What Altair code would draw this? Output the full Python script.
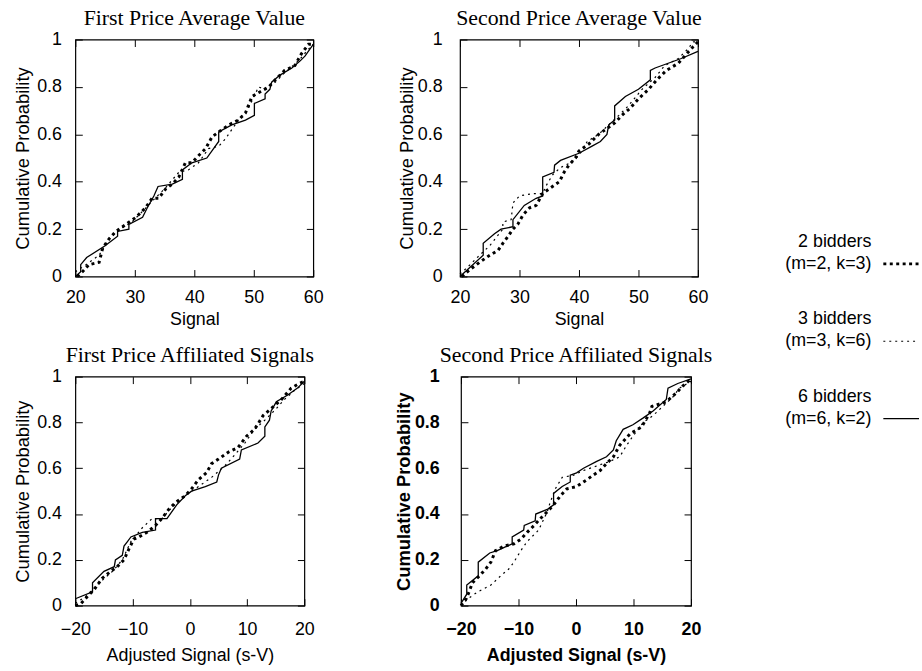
import altair as alt
import pandas as pd

SERIES = ["2 bidders", "3 bidders", "6 bidders"]
SERIES_SUB = ["(m=2, k=3)", "(m=3, k=6)", "(m=6, k=2)"]

# ---- Panel 1: First Price Average Value (x = Signal 20..60)
p1_s2_x = [20.3, 21.2, 22.3, 24.0, 24.6, 25.7, 26.8, 28.5, 30.2, 31.8, 32.9, 34.0, 35.2, 36.3, 37.4, 38.5, 39.6, 40.7, 41.9, 43.0, 44.1, 45.8, 47.4, 48.6, 49.7, 51.1, 52.5, 53.6, 55.2, 56.9, 58.0, 59.2, 60.0]
p1_s2_y = [0.00, 0.02, 0.05, 0.06, 0.12, 0.16, 0.19, 0.22, 0.25, 0.29, 0.33, 0.33, 0.37, 0.39, 0.42, 0.48, 0.48, 0.51, 0.54, 0.59, 0.61, 0.64, 0.66, 0.69, 0.76, 0.78, 0.80, 0.83, 0.87, 0.89, 0.94, 0.98, 0.98]
p1_s3_x = [20.0, 21.8, 24.0, 25.7, 27.5, 29.5, 31.5, 33.0, 35.0, 37.4, 39.0, 40.7, 42.4, 44.1, 45.2, 47.4, 49.1, 50.8, 51.9, 53.6, 55.2, 57.5, 59.2, 60.0]
p1_s3_y = [0.02, 0.05, 0.09, 0.16, 0.20, 0.23, 0.28, 0.32, 0.37, 0.44, 0.45, 0.48, 0.54, 0.55, 0.58, 0.66, 0.71, 0.80, 0.79, 0.82, 0.86, 0.91, 0.96, 0.98]
p1_s6_x = [20.0, 20.9, 20.9, 21.9, 25.0, 27.1, 27.1, 29.0, 29.0, 31.3, 32.1, 33.2, 33.9, 36.3, 38.0, 38.0, 39.6, 42.1, 44.1, 44.1, 46.3, 48.6, 50.1, 50.1, 51.9, 51.9, 52.7, 53.0, 54.4, 56.4, 57.8, 58.6, 60.0]
p1_s6_y = [0.00, 0.02, 0.05, 0.08, 0.13, 0.17, 0.19, 0.20, 0.22, 0.25, 0.29, 0.34, 0.38, 0.39, 0.41, 0.45, 0.48, 0.50, 0.57, 0.61, 0.64, 0.66, 0.68, 0.73, 0.75, 0.77, 0.79, 0.82, 0.85, 0.88, 0.91, 0.93, 0.98]

# ---- Panel 2: Second Price Average Value
p2_s2_x = [20.3, 21.7, 23.3, 25.0, 26.4, 27.2, 28.1, 28.9, 29.7, 30.6, 31.7, 32.8, 33.9, 35.0, 36.7, 37.5, 38.3, 39.4, 40.0, 41.7, 43.3, 45.0, 46.1, 47.2, 48.6, 50.0, 51.7, 53.1, 54.7, 56.7, 58.1, 59.2, 60.0]
p2_s2_y = [0.00, 0.03, 0.06, 0.09, 0.11, 0.14, 0.17, 0.20, 0.22, 0.26, 0.29, 0.30, 0.35, 0.37, 0.40, 0.44, 0.47, 0.50, 0.53, 0.56, 0.60, 0.63, 0.65, 0.68, 0.71, 0.75, 0.79, 0.83, 0.87, 0.90, 0.94, 0.97, 0.99]
p2_s3_x = [20.0, 21.7, 23.3, 25.0, 27.2, 27.2, 28.6, 28.9, 30.0, 32.2, 33.9, 34.4, 35.6, 36.9, 38.6, 40.0, 41.4, 43.3, 45.0, 46.7, 48.3, 50.6, 52.8, 54.4, 56.7, 58.3, 59.2, 60.0]
p2_s3_y = [0.01, 0.05, 0.09, 0.13, 0.20, 0.23, 0.24, 0.31, 0.34, 0.35, 0.35, 0.38, 0.43, 0.46, 0.48, 0.51, 0.57, 0.60, 0.64, 0.68, 0.72, 0.79, 0.84, 0.89, 0.92, 0.96, 0.99, 0.99]
p2_s6_x = [20.0, 23.9, 23.9, 25.8, 26.9, 28.9, 28.9, 30.8, 32.8, 33.9, 33.9, 35.8, 35.9, 36.9, 40.0, 42.2, 43.6, 44.7, 45.0, 46.0, 46.0, 47.8, 50.0, 52.0, 52.0, 52.8, 55.0, 57.2, 60.0]
p2_s6_y = [0.00, 0.09, 0.14, 0.18, 0.20, 0.21, 0.24, 0.30, 0.33, 0.34, 0.42, 0.44, 0.47, 0.49, 0.52, 0.55, 0.57, 0.60, 0.64, 0.66, 0.72, 0.76, 0.79, 0.83, 0.87, 0.88, 0.90, 0.92, 0.95]

# ---- Panel 3: First Price Affiliated Signals (x = Adjusted Signal -20..20)
p3_s2_x = [-20.0, -19.0, -17.9, -16.7, -15.3, -13.8, -12.7, -11.5, -10.6, -9.8, -8.9, -7.5, -6.0, -4.9, -3.7, -2.5, -0.8, 0.3, 1.5, 2.9, 3.8, 5.0, 6.7, 8.4, 9.9, 11.3, 12.8, 14.2, 16.0, 17.7, 19.1, 20.0]
p3_s2_y = [0.00, 0.01, 0.04, 0.07, 0.12, 0.15, 0.17, 0.20, 0.25, 0.29, 0.30, 0.32, 0.35, 0.38, 0.42, 0.45, 0.48, 0.51, 0.55, 0.58, 0.62, 0.64, 0.67, 0.69, 0.74, 0.77, 0.83, 0.86, 0.90, 0.95, 0.97, 0.98]
p3_s3_x = [-20.0, -18.2, -15.8, -13.5, -11.8, -10.3, -8.3, -6.6, -4.9, -3.1, -0.8, 1.5, 3.8, 6.1, 7.9, 9.6, 11.3, 13.1, 15.1, 16.5, 18.3, 20.0]
p3_s3_y = [0.01, 0.04, 0.10, 0.15, 0.20, 0.28, 0.34, 0.38, 0.38, 0.43, 0.48, 0.52, 0.56, 0.61, 0.66, 0.71, 0.77, 0.81, 0.86, 0.90, 0.94, 0.97]
p3_s6_x = [-20.0, -17.0, -17.0, -15.0, -13.2, -13.0, -11.8, -11.5, -10.9, -10.3, -8.3, -6.0, -6.0, -4.0, -2.3, -0.8, 0.3, 2.7, 4.7, 5.0, 5.5, 8.7, 9.0, 11.9, 13.1, 13.1, 13.9, 14.2, 15.1, 17.1, 18.8, 20.0]
p3_s6_y = [0.03, 0.06, 0.10, 0.15, 0.17, 0.20, 0.22, 0.26, 0.28, 0.30, 0.32, 0.33, 0.38, 0.38, 0.44, 0.48, 0.50, 0.52, 0.54, 0.57, 0.60, 0.64, 0.68, 0.71, 0.74, 0.78, 0.81, 0.85, 0.89, 0.92, 0.95, 0.98]

# ---- Panel 4: Second Price Affiliated Signals
p4_s2_x = [-20.0, -19.1, -18.6, -18.0, -16.8, -15.7, -14.8, -14.0, -12.5, -10.8, -9.6, -8.5, -7.3, -6.2, -5.0, -3.9, -2.7, -1.6, 0.1, 1.9, 3.0, 4.2, 5.3, 6.5, 7.6, 9.4, 11.4, 12.8, 13.2, 15.7, 17.5, 18.6, 20.0]
p4_s2_y = [0.00, 0.03, 0.06, 0.10, 0.13, 0.16, 0.19, 0.24, 0.26, 0.27, 0.29, 0.32, 0.35, 0.38, 0.41, 0.44, 0.48, 0.51, 0.52, 0.55, 0.57, 0.59, 0.62, 0.65, 0.70, 0.75, 0.78, 0.84, 0.87, 0.89, 0.93, 0.96, 0.99]
p4_s3_x = [-20.0, -18.8, -17.1, -14.8, -13.1, -11.7, -10.8, -9.6, -8.5, -6.5, -5.0, -4.5, -3.6, -2.4, -0.4, 1.3, 3.6, 5.9, 7.6, 8.8, 9.9, 11.7, 13.4, 15.1, 16.8, 18.0, 20.0]
p4_s3_y = [0.00, 0.03, 0.06, 0.09, 0.13, 0.16, 0.19, 0.24, 0.28, 0.33, 0.41, 0.45, 0.51, 0.56, 0.57, 0.59, 0.61, 0.63, 0.65, 0.70, 0.74, 0.80, 0.83, 0.87, 0.91, 0.95, 0.98]
p4_s6_x = [-20.0, -19.0, -19.0, -17.0, -17.0, -15.0, -13.7, -11.1, -11.1, -9.1, -9.0, -7.1, -7.0, -5.0, -3.9, -3.9, -2.4, -1.0, -1.0, 0.1, 1.3, 3.6, 5.3, 6.5, 7.0, 8.2, 9.9, 11.7, 13.4, 15.7, 16.0, 17.7, 20.0]
p4_s6_y = [0.01, 0.05, 0.09, 0.13, 0.19, 0.23, 0.24, 0.27, 0.30, 0.33, 0.35, 0.37, 0.40, 0.42, 0.44, 0.49, 0.52, 0.54, 0.57, 0.58, 0.60, 0.63, 0.65, 0.68, 0.72, 0.77, 0.79, 0.82, 0.85, 0.90, 0.95, 0.97, 0.99]

Y_TICKS = [0, 0.2, 0.4, 0.6, 0.8, 1]
X_TICKS_AV = [20, 30, 40, 50, 60]
X_TICKS_AF = [-20, -10, 0, 10, 20]

panels = {
    "p1": [(p1_s2_x, p1_s2_y), (p1_s3_x, p1_s3_y), (p1_s6_x, p1_s6_y)],
    "p2": [(p2_s2_x, p2_s2_y), (p2_s3_x, p2_s3_y), (p2_s6_x, p2_s6_y)],
    "p3": [(p3_s2_x, p3_s2_y), (p3_s3_x, p3_s3_y), (p3_s6_x, p3_s6_y)],
    "p4": [(p4_s2_x, p4_s2_y), (p4_s3_x, p4_s3_y), (p4_s6_x, p4_s6_y)],
}
rows = []
for key, series_list in panels.items():
    for name, (xs, ys) in zip(SERIES, series_list):
        for i, (xv, yv) in enumerate(zip(xs, ys)):
            rows.append({"panel": key, "series": name, "i": i, "x": xv, "y": yv})
df = pd.DataFrame(rows)

SANS = "Liberation Sans"
SERIF = "Liberation Serif"
TICK = 7


def make_panel(key, title, xdom, xvals, xtitle, w, h, lpx, tpx, lpy, tpy,
               weight="normal", tsize=22, tweight="normal"):
    d = df[df.panel == key]
    xaxis = alt.Axis(values=xvals, title=xtitle, grid=True, gridColor="black",
                     gridOpacity=1, gridWidth=1, gridDash=[TICK, h - 2 * TICK, TICK],
                     ticks=False, tickSize=0, domain=False, labelFlush=False,
                     labelFont=SANS, labelFontSize=18, labelColor="black",
                     labelFontWeight=weight, labelPadding=lpx,
                     titleFont=SANS, titleFontSize=18, titleColor="black",
                     titleFontWeight=weight, titlePadding=tpx)
    yaxis = alt.Axis(values=Y_TICKS, format="~g", title="Cumulative Probability",
                     grid=True, gridColor="black", gridOpacity=1, gridWidth=1,
                     gridDash=[TICK, w - 2 * TICK, TICK],
                     ticks=False, tickSize=0, domain=False, labelFlush=False,
                     labelFont=SANS, labelFontSize=18, labelColor="black",
                     labelFontWeight=weight, labelPadding=lpy,
                     titleFont=SANS, titleFontSize=18.5, titleColor="black",
                     titleFontWeight=weight, titlePadding=tpy)
    base = alt.Chart(d).encode(
        x=alt.X("x:Q", scale=alt.Scale(domain=xdom, nice=False, zero=False), axis=xaxis),
        y=alt.Y("y:Q", scale=alt.Scale(domain=[0, 1], nice=False), axis=yaxis),
        order="i:Q",
    )
    l2 = base.transform_filter(alt.datum.series == SERIES[0]).mark_line(
        color="black", strokeWidth=3, strokeDash=[3, 3.5], strokeCap="butt")
    l3 = base.transform_filter(alt.datum.series == SERIES[1]).mark_line(
        color="black", strokeWidth=1.2, strokeDash=[2, 4])
    l6 = base.transform_filter(alt.datum.series == SERIES[2]).mark_line(
        color="black", strokeWidth=1.3)
    return alt.layer(l2, l3, l6).properties(
        width=w, height=h,
        title=alt.TitleParams(title, font=SERIF, fontSize=tsize, fontWeight=tweight,
                              color="black", offset=1, anchor="middle"))


p1 = make_panel("p1", "First Price Average Value", [20, 60], X_TICKS_AV, "Signal",
                240, 239, 12, 4, 14, 4)
p2 = make_panel("p2", "Second Price Average Value", [20, 60], X_TICKS_AV, "Signal",
                240, 239, 12, 4, 18, 1)
p3 = make_panel("p3", "First Price Affiliated Signals", [-20, 20], X_TICKS_AF,
                "Adjusted Signal (s-V)", 231, 231, 15, 8, 14, 4)
p4 = make_panel("p4", "Second Price Affiliated Signals", [-20, 20], X_TICKS_AF,
                "Adjusted Signal (s-V)", 232, 231, 15, 8, 22, 1,
                weight="bold")

# ---- legend
leg_df = pd.DataFrame({"series": SERIES, "sub": SERIES_SUB, "pos": [0, 1, 2]})
lbase = alt.Chart(leg_df).encode(
    y=alt.Y("pos:Q", scale=alt.Scale(domain=[-2.90, 4.79], reverse=True, nice=False, zero=False),
            axis=None))
t1 = lbase.mark_text(align="right", baseline="middle", dy=-22, font=SANS, fontSize=18,
                     color="black").encode(x=alt.value(150), text="series:N")
t2 = lbase.mark_text(align="right", baseline="middle", font=SANS, fontSize=18,
                     color="black").encode(x=alt.value(150), text="sub:N")
r2 = lbase.transform_filter(alt.datum.series == SERIES[0]).mark_rule(
    color="black", strokeWidth=3, strokeDash=[3, 3.5], strokeCap="butt").encode(
    x=alt.value(162), x2=alt.value(198))
r3 = lbase.transform_filter(alt.datum.series == SERIES[1]).mark_rule(
    color="black", strokeWidth=1.2, strokeDash=[2, 4]).encode(
    x=alt.value(162), x2=alt.value(198))
r6 = lbase.transform_filter(alt.datum.series == SERIES[2]).mark_rule(
    color="black", strokeWidth=1.3).encode(x=alt.value(162), x2=alt.value(198))
legend = alt.layer(t1, t2, r2, r3, r6).properties(
    width=190, height=600, view=alt.ViewBackground(stroke="transparent"))

row1 = alt.hconcat(p1, p2, spacing=73)
row2 = alt.hconcat(p3, p4, spacing=78)
left = alt.vconcat(row1, row2, spacing=14)
chart = alt.hconcat(left, legend, spacing=8).properties(
    padding={"left": 13, "top": 3, "right": 0, "bottom": 0},
    background="white",
).configure_view(stroke="black", strokeWidth=1.2)

chart.save("out.html", embed_options={"renderer": "svg", "actions": False})
